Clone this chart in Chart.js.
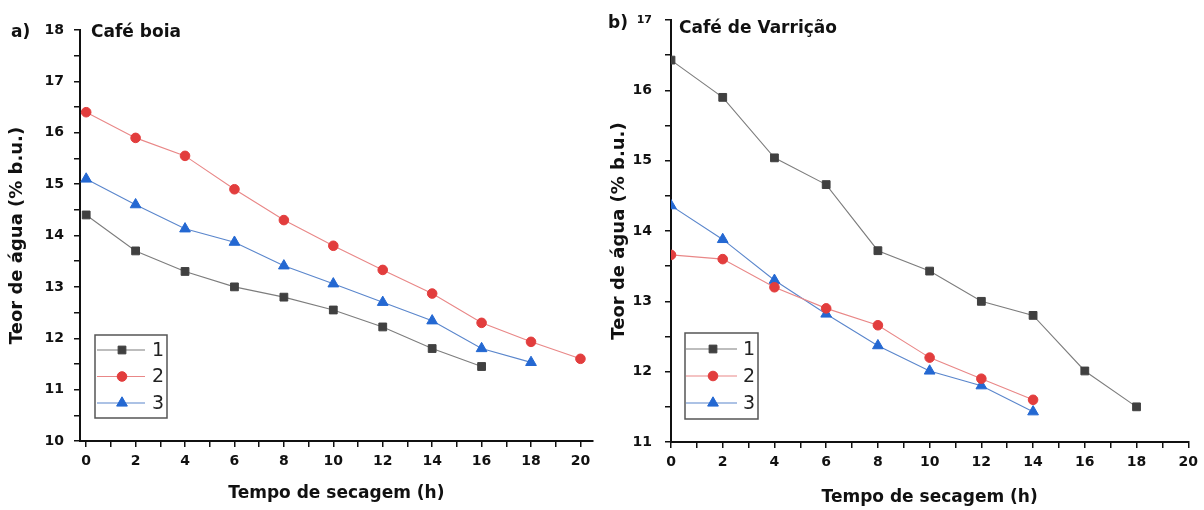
<!DOCTYPE html>
<html><head><meta charset="utf-8">
<script src="https://cdn.jsdelivr.net/npm/chart.js@4.4.0/dist/chart.umd.min.js"></script>
<style>
html,body{margin:0;padding:0;background:#fff;width:1204px;height:510px;overflow:hidden}
.p{position:absolute;top:0;height:510px}
#wa{left:0;width:600px}
#wb{left:600px;width:604px}
</style></head><body>
<div class="p" id="wa"><canvas id="ca" width="600" height="510"></canvas></div>
<div class="p" id="wb"><canvas id="cb" width="604" height="510"></canvas></div>
<script>
// ---- data ----
const seriesLabels = ['1', '2', '3'];
const panelTitles = ['Café boia', 'Café de Varrição'];
const panelTags = ['a)', 'b)'];
const xAxisTitle = 'Tempo de secagem (h)';
const yAxisTitle = 'Teor de água (% b.u.)';

const hoursA1 = [0, 2, 4, 6, 8, 10, 12, 14, 16];
const boia1   = [14.4, 13.7, 13.3, 13.0, 12.8, 12.55, 12.22, 11.8, 11.45];
const hoursA2 = [0, 2, 4, 6, 8, 10, 12, 14, 16, 18, 20];
const boia2   = [16.4, 15.9, 15.55, 14.9, 14.3, 13.8, 13.33, 12.87, 12.3, 11.93, 11.6];
const hoursA3 = [0, 2, 4, 6, 8, 10, 12, 14, 16, 18];
const boia3   = [15.1, 14.6, 14.13, 13.87, 13.41, 13.06, 12.7, 12.34, 11.8, 11.53];

const hoursB1 = [0, 2, 4, 6, 8, 10, 12, 14, 16, 18];
const varr1   = [16.43, 15.9, 15.04, 14.66, 13.72, 13.43, 13.0, 12.8, 12.01, 11.5];
const hoursB2 = [0, 2, 4, 6, 8, 10, 12, 14];
const varr2   = [13.66, 13.6, 13.2, 12.9, 12.66, 12.2, 11.9, 11.6];
const hoursB3 = [0, 2, 4, 6, 8, 10, 12, 14];
const varr3   = [14.36, 13.88, 13.3, 12.82, 12.37, 12.01, 11.8, 11.43];

const xTicksA = [0,1,2,3,4,5,6,7,8,9,10,11,12,13,14,15,16,17,18,19,20];
const xTicksB = [0,1,2,3,4,5,6,7,8,9,10,11,12,13,14,15,16,17,18,19,20];
const yTicksA = [10,10.5,11,11.5,12,12.5,13,13.5,14,14.5,15,15.5,16,16.5,17,17.5,18];
const yTicksB = [11,11.5,12,12.5,13,13.5,14,14.5,15,15.5,16,16.5,17];

// ---- styles ----
const FONT = 'DejaVu Sans';
const styles = [
  {line: '#7d7d7d', point: '#404040', shape: 'rect', r: 5.5},
  {line: '#e98787', point: '#e23d3d', shape: 'circle', r: 4.8},
  {line: '#5a86cc', point: '#2468d2', shape: 'triangle', r: 6.2}
];

function toPts(xs, ys) { return xs.map((x, i) => ({x: x, y: ys[i]})); }

function mkDataset(label, xs, ys, st) {
  return {
    label: label, data: toPts(xs, ys),
    borderColor: st.line, borderWidth: 1.1,
    pointStyle: st.shape, pointRadius: st.r, pointHoverRadius: st.r,
    pointBackgroundColor: st.point, pointBorderColor: st.point, pointBorderWidth: 1,
    tension: 0, fill: false
  };
}

function drawMarker(ctx, shape, r, x, y, color) {
  ctx.save();
  ctx.fillStyle = color; ctx.strokeStyle = color; ctx.lineWidth = 1;
  ctx.beginPath();
  if (shape === 'rect') {
    const s = Math.SQRT1_2 * r;
    ctx.rect(x - s, y - s, 2 * s, 2 * s);
  } else if (shape === 'circle') {
    ctx.arc(x, y, r, 0, Math.PI * 2);
  } else {
    ctx.moveTo(x, y - r);
    ctx.lineTo(x + r * Math.sin(Math.PI / 3), y + r / 2);
    ctx.lineTo(x - r * Math.sin(Math.PI / 3), y + r / 2);
    ctx.closePath();
  }
  ctx.fill(); ctx.stroke();
  ctx.restore();
}

const boxLegend = {
  id: 'boxLegend',
  afterDatasetsDraw(chart, args, o) {
    const ctx = chart.ctx;
    ctx.save();
    ctx.fillStyle = '#fff';
    ctx.fillRect(o.x, o.y, o.w, o.h);
    ctx.strokeStyle = '#555'; ctx.lineWidth = 1.5;
    ctx.strokeRect(o.x, o.y, o.w, o.h);
    chart.data.datasets.forEach((ds, i) => {
      const y = o.y + o.first + i * o.rowH;
      ctx.strokeStyle = ds.borderColor; ctx.lineWidth = 1.1;
      ctx.beginPath(); ctx.moveTo(o.x + o.lineFrom, y); ctx.lineTo(o.x + o.lineTo, y); ctx.stroke();
      drawMarker(ctx, ds.pointStyle, ds.pointRadius, o.x + o.marker, y, ds.pointBackgroundColor);
      ctx.fillStyle = '#222';
      ctx.font = '19px "' + FONT + '"';
      ctx.textBaseline = 'middle'; ctx.textAlign = 'left';
      ctx.fillText(ds.label, o.x + o.text, y + 1);
    });
    ctx.restore();
  }
};

const panelText = {
  id: 'panelText',
  afterDraw(chart, args, o) {
    const ctx = chart.ctx;
    ctx.save();
    ctx.fillStyle = '#111';
    ctx.textBaseline = 'alphabetic'; ctx.textAlign = 'left';
    o.items.forEach(it => {
      ctx.font = 'bold ' + it.size + 'px "' + FONT + '"';
      ctx.fillText(it.text, it.x, it.y);
    });
    ctx.restore();
  }
};

function makeChart(id, cfg) {
  const tickFont = cfg.tickFont;
  return new Chart(document.getElementById(id), {
    type: 'line',
    data: {datasets: cfg.datasets},
    plugins: [boxLegend, panelText],
    options: {
      responsive: false, animation: false,
      layout: {padding: {left: 0, top: cfg.top, right: cfg.right, bottom: 0}},
      plugins: {
        legend: {display: false}, tooltip: {enabled: false},
        boxLegend: cfg.legend,
        panelText: {items: cfg.texts}
      },
      scales: {
        x: {
          type: 'linear', min: cfg.xMin, max: cfg.xMax,
          afterBuildTicks: s => { s.ticks = cfg.xTicks.map(v => ({value: v})); },
          afterFit: s => { s.height = 510 - cfg.bottom; },
          ticks: {
            autoSkip: false, maxRotation: 0, padding: 6, color: '#111',
            font: {family: FONT, weight: 'bold', size: 14},
            callback: v => (v % 2 === 0 ? String(v) : '')
          },
          grid: {drawOnChartArea: false, drawTicks: true, tickLength: 6, color: '#111', lineWidth: 1.5},
          border: {color: '#111', width: 2},
          title: {display: true, text: xAxisTitle, color: '#111',
                  font: {family: FONT, weight: 'bold', size: 17}, padding: {top: 0, bottom: cfg.xTitlePad}}
        },
        y: {
          min: cfg.yMin, max: cfg.yMax,
          afterBuildTicks: s => { s.ticks = cfg.yTicks.map(v => ({value: v})); },
          afterFit: s => { s.width = cfg.left; },
          ticks: {
            autoSkip: false, padding: cfg.yPad, color: '#111',
            font: c => ({family: FONT, weight: 'bold',
                         size: (cfg.smallTop && c.tick && c.tick.value === cfg.yMax) ? 11 : tickFont}),
            callback: v => (Number.isInteger(v) ? String(v) : '')
          },
          grid: {drawOnChartArea: false, drawTicks: true, tickLength: 6, color: '#111', lineWidth: 1.5},
          border: {color: '#111', width: 2},
          title: {display: true, text: yAxisTitle, color: '#111',
                  font: {family: FONT, weight: 'bold', size: 18}, padding: {top: cfg.yTitlePad, bottom: 0}}
        }
      }
    }
  });
}

makeChart('ca', {
  datasets: [
    mkDataset(seriesLabels[0], hoursA1, boia1, styles[0]),
    mkDataset(seriesLabels[1], hoursA2, boia2, styles[1]),
    mkDataset(seriesLabels[2], hoursA3, boia3, styles[2])
  ],
  xMin: -0.25, xMax: 20.5, yMin: 10, yMax: 18,
  xTicks: xTicksA, yTicks: yTicksA,
  top: 30, right: 7, bottom: 441, left: 80,
  tickFont: 14, yPad: 10, yTitlePad: 7, xTitlePad: 6, smallTop: false,
  legend: {x: 95, y: 335, w: 72, h: 83, first: 15, rowH: 26.5, lineFrom: 2, lineTo: 50, marker: 27, text: 57},
  texts: [
    {text: panelTags[0], x: 11, y: 37, size: 17},
    {text: panelTitles[0], x: 91, y: 37, size: 17}
  ]
});

makeChart('cb', {
  datasets: [
    mkDataset(seriesLabels[0], hoursB1, varr1, styles[0]),
    mkDataset(seriesLabels[1], hoursB2, varr2, styles[1]),
    mkDataset(seriesLabels[2], hoursB3, varr3, styles[2])
  ],
  xMin: 0, xMax: 20, yMin: 11, yMax: 17,
  xTicks: xTicksB, yTicks: yTicksB,
  top: 20, right: 11, bottom: 442, left: 71,
  tickFont: 14, yPad: 13, yTitlePad: 9, xTitlePad: 2, smallTop: true,
  legend: {x: 85, y: 333, w: 73, h: 86, first: 16, rowH: 27, lineFrom: 1, lineTo: 52, marker: 28, text: 58},
  texts: [
    {text: panelTags[1], x: 8, y: 28, size: 17},
    {text: panelTitles[1], x: 79, y: 33, size: 17}
  ]
});
</script>
</body></html>
